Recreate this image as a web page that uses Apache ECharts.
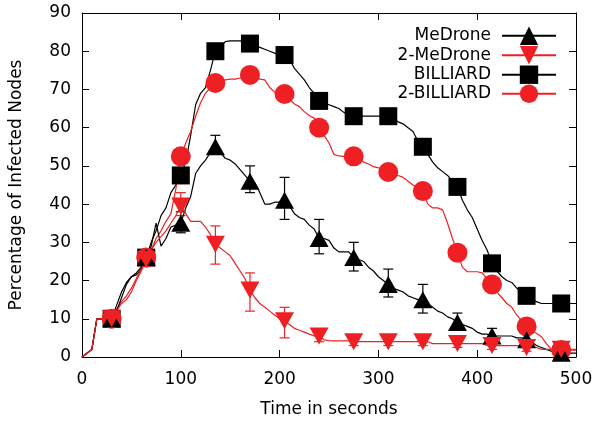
<!DOCTYPE html>
<html>
<head>
<meta charset="utf-8">
<script src="https://cdn.jsdelivr.net/npm/echarts@6/dist/echarts.min.js"></script>
<style>
html, body { margin: 0; padding: 0; background: #fff; }
#chart { width: 596px; height: 423px; }
</style>
</head>
<body>
<div id="chart"></div>
<script>
// Sampling step of the infection curves, in seconds
const timeStep = 5;

// Percentage of infected nodes, one value every 5 s from 0 to 500 s
const meDrone = [
  0, 1, 2, 10, 10, 10, 10, 12, 15.5, 19,
  21, 22, 23.5, 26, 29, 35, 29, 31, 34, 34.5,
  35, 39, 42, 48, 50, 51.5, 53.5, 55, 53.5, 52,
  51.5, 50.5, 49, 47.5, 46, 45.5, 43, 40, 40, 40.5,
  40.5, 41, 39.5, 37.5, 36.5, 36, 34.5, 33.5, 31, 31,
  30.5, 28.5, 27.5, 27.5, 27.5, 26, 25.5, 25, 23.5, 22.5,
  21, 20, 19, 18, 17.5, 17, 16, 15.5, 15, 15,
  14, 13, 12, 11.5, 10.5, 10, 9, 8.5, 8, 7.5,
  6.5, 6, 6, 5.5, 5.5, 5.5, 5.5, 5.5, 5, 5,
  4.5, 4, 3, 2.5, 2, 1.5, 1, 1, 1, 1,
  1
];
const twoMeDrone = [
  0, 1, 2, 10, 10, 10, 10, 12, 14, 15,
  17, 20, 22.5, 25.5, 28, 30, 31.5, 33, 35, 37,
  39.5, 37.5, 35.5, 35.5, 35.5, 34, 32, 29.5, 28.5, 27.5,
  26.5, 24.5, 22.5, 20.5, 17.5, 15.5, 14, 13, 12, 11,
  10, 9.5, 8.5, 7.5, 7, 6.5, 6, 5.5, 5.5, 4.5,
  4.3, 4.2, 4.2, 4.2, 4.2, 4, 4, 4, 4, 4,
  4, 4, 4, 4, 4, 4, 4, 4, 4, 4,
  4, 3.5, 3.5, 3.5, 3.5, 3.5, 3.5, 3.5, 3.5, 3.5,
  3.5, 3.5, 3, 3, 3, 3, 3, 3, 3, 3,
  2.5, 2.5, 2.5, 2, 2, 2, 2, 2, 2, 2,
  2
];
const billiard = [
  0, 1, 2, 10, 10, 10, 10, 13.5, 17, 19.5,
  21, 21.5, 23, 26, 30, 33, 37, 39, 43, 45,
  47.5, 51, 58, 66, 69, 70.5, 75, 80, 81, 82.5,
  82.7, 82.7, 82.7, 82.5, 82, 81.5, 81, 80.5, 80, 79.5,
  79, 79, 78, 75.5, 74, 72.5, 70.5, 69, 67, 66.5,
  66, 65.5, 65, 64, 63.5, 63, 63, 63, 63, 63,
  63, 63, 63, 62.5, 61.5, 61, 60, 59, 56.5, 55,
  53, 51, 49.5, 48.5, 47.5, 46, 44.5, 41, 38.5, 36.5,
  33.5, 30.5, 28, 24.5, 22.5, 21, 20, 19.5, 18, 17,
  16, 15, 14.5, 14, 14, 14, 14, 14, 14, 14,
  14
];
const twoBilliard = [
  0, 1, 2, 10, 10, 10, 10, 12.5, 14.5, 16,
  18, 20.5, 23, 26, 28, 31, 33, 35.5, 37.5, 44,
  52.5, 56, 59, 63, 66.5, 69, 70.5, 71.7, 72, 72.5,
  72.7, 72.7, 73, 73.5, 73.8, 73.5, 72.7, 72.5, 70.5, 69.3,
  69, 68.8, 67.5, 66.2, 65.5, 64.2, 63.2, 62.5, 60, 58,
  56, 53, 52.6, 52.5, 52.5, 52.5, 52, 51, 50.5, 49.8,
  49.5, 49, 48.4, 48, 47.5, 47, 46, 45, 44, 43.4,
  40, 39, 39, 38.5, 35, 31, 27.3, 23.5, 22.3, 22.3,
  22.3, 22, 20.5, 19, 17, 15.5, 14, 13, 11, 9.5,
  8, 7, 6.2, 5.3, 3.5, 2, 1.8, 1.8, 1.8, 1.8,
  1.8
];

// Times at which a point symbol is drawn on every curve
const markTimes = [30, 65, 100, 135, 170, 205, 240, 275, 310, 345, 380, 415, 450, 485];

// Error bars (low / high) of the MeDrone runs
const errTimes = [100, 135, 170, 205, 240, 275, 310, 345, 380, 415, 450, 485];
const meDroneLow  = [32.5, 53, 43, 36, 27, 22.5, 15.7, 11.5, 7, 5, 3, 0.5];
const meDroneHigh = [38, 58, 50, 47, 36, 30, 23, 19, 11.5, 7.5, 6, 2];
const twoMeDroneLow  = [37, 24.3, 12, 5, 4, 3, 3, 3, 2.5, 2, 1.5, 1];
const twoMeDroneHigh = [43, 34.3, 22, 13, 6.5, 5, 5, 5, 4.5, 4.5, 4, 3.5];

const xTicks = { min: 0, max: 500, interval: 100 };
const yTicks = { min: 0, max: 90, interval: 10 };

const BLACK = '#000000';
const RED = '#ee2024';
const FONT = 'DejaVu Sans';

const times = meDrone.map((_, i) => i * timeStep);
const toPairs = arr => times.map((t, i) => [t, arr[i]]);
const markSize = size => (v => markTimes.includes(v[0]) ? size : 0);

function lineSeries(name, values, color, symbol, size, rotate) {
  return {
    name: name,
    type: 'line',
    data: toPairs(values),
    symbol: symbol,
    symbolSize: markSize(size),
    symbolRotate: rotate || 0,
    showAllSymbol: true,
    silent: true,
    lineStyle: { color: color, width: 1.2 },
    itemStyle: { color: color, borderWidth: 0 },
    emphasis: { disabled: true },
    animation: false
  };
}

function errorSeries(low, high, color) {
  return {
    type: 'custom',
    silent: true,
    animation: false,
    data: errTimes.map((t, i) => [t, low[i], high[i]]),
    renderItem: function (params, api) {
      const x = api.value(0);
      const lo = api.coord([x, api.value(1)]);
      const hi = api.coord([x, api.value(2)]);
      const half = 5;
      const st = { stroke: color, lineWidth: 1.2 };
      return {
        type: 'group',
        children: [
          { type: 'line', shape: { x1: lo[0], y1: lo[1], x2: hi[0], y2: hi[1] }, style: st },
          { type: 'line', shape: { x1: lo[0] - half, y1: lo[1], x2: lo[0] + half, y2: lo[1] }, style: st },
          { type: 'line', shape: { x1: hi[0] - half, y1: hi[1], x2: hi[0] + half, y2: hi[1] }, style: st }
        ]
      };
    }
  };
}

const names = ['MeDrone', '2-MeDrone', 'BILLIARD', '2-BILLIARD'];
const legendRowCenters = [38, 57.5, 77, 96];
const legendItemHeight = 23;

const legends = names.map((n, i) => ({
  data: [n],
  right: 39,
  top: legendRowCenters[i] - legendItemHeight / 2,
  align: 'right',
  padding: 0,
  itemWidth: 54,
  itemHeight: legendItemHeight,
  selectedMode: false,
  textStyle: { fontFamily: FONT, fontSize: 17, color: BLACK, padding: [0, 6, 0, 0] }
}));

const axisText = { fontFamily: FONT, fontSize: 17, color: BLACK };
const axisLineStyle = { show: true, onZero: false, lineStyle: { color: BLACK, width: 1 } };
const tickStyle = { show: true, inside: true, length: 7, lineStyle: { color: BLACK, width: 1 } };

const option = {
  backgroundColor: '#ffffff',
  animation: false,
  grid: { left: 82, right: 20, top: 13, bottom: 66, containLabel: false },
  legend: legends,
  xAxis: [
    Object.assign({
      type: 'value', position: 'bottom',
      axisLine: axisLineStyle, axisTick: tickStyle,
      axisLabel: Object.assign({ margin: 14 }, axisText),
      splitLine: { show: false },
      name: 'Time in seconds', nameLocation: 'middle', nameGap: 44,
      nameTextStyle: axisText
    }, xTicks),
    Object.assign({
      type: 'value', position: 'top',
      axisLine: axisLineStyle, axisTick: tickStyle,
      axisLabel: { show: false }, splitLine: { show: false }
    }, xTicks)
  ],
  yAxis: [
    Object.assign({
      type: 'value', position: 'left',
      axisLine: axisLineStyle, axisTick: tickStyle,
      axisLabel: Object.assign({ margin: 11 }, axisText),
      splitLine: { show: false },
      name: 'Percentage of Infected Nodes', nameLocation: 'middle', nameGap: 57,
      nameTextStyle: axisText
    }, yTicks),
    Object.assign({
      type: 'value', position: 'right',
      axisLine: axisLineStyle, axisTick: tickStyle,
      axisLabel: { show: false }, splitLine: { show: false }
    }, yTicks)
  ],
  // Drawing order: squares and circles first, triangles with error bars on top
  series: [
    lineSeries(names[2], billiard, BLACK, 'rect', 18),
    lineSeries(names[3], twoBilliard, RED, 'circle', 20),
    lineSeries(names[0], meDrone, BLACK, 'triangle', [19, 17]),
    errorSeries(meDroneLow, meDroneHigh, BLACK),
    lineSeries(names[1], twoMeDrone, RED, 'triangle', [19, 17], 180),
    errorSeries(twoMeDroneLow, twoMeDroneHigh, RED)
  ]
};

const chart = echarts.init(document.getElementById('chart'), null, { renderer: 'canvas' });
chart.setOption(option);
</script>
</body>
</html>
